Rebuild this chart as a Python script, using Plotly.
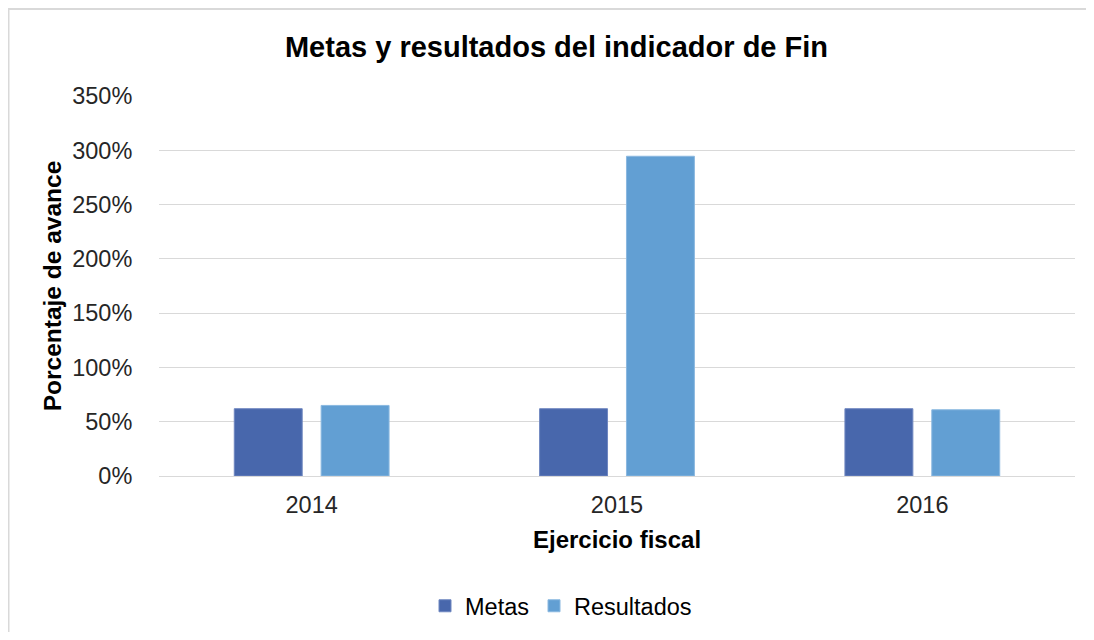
import plotly.graph_objects as go

years = ["2014", "2015", "2016"]
metas = [62, 62, 62]
resultados = [65, 294.5, 61]
y_ticks = [0, 50, 100, 150, 200, 250, 300, 350]
y_labels = ["0%", "50%", "100%", "150%", "200%", "250%", "300%", "350%"]

fig = go.Figure()
fig.add_trace(go.Bar(name="Metas", x=years, y=metas,
                     marker=dict(color="#4867ac", line=dict(color="#6f87c0", width=1))))
fig.add_trace(go.Bar(name="Resultados", x=years, y=resultados,
                     marker=dict(color="#629fd3", line=dict(color="#8ab8e0", width=1))))

# page has an 8px body margin; figure coordinates = page coordinates - 8
OFF = 8
W, H = 1094 - 2 * OFF, 640 - 2 * OFF
pl, pr, pt, pb = 159, 1075, 96, 476  # plot area in page pixels
ml, mr, mt, mb = pl - OFF, W - (pr - OFF), pt - OFF, H - (pb - OFF)
pw, ph = W - ml - mr, H - mt - mb

def px_x(p):
    return (p - OFF - ml) / pw

def px_y(p):
    return (H - mb - (p - OFF)) / ph

def cx(p):
    return (p - OFF) / W

def cy(p):
    return 1 - (p - OFF) / H

fig.update_layout(
    width=W, height=H, autosize=False,
    margin=dict(l=ml, r=mr, t=mt, b=mb, autoexpand=False),
    paper_bgcolor="white", plot_bgcolor="white",
    font=dict(family="Liberation Sans, Arial, sans-serif", color="#262626", size=23),
    title=dict(text="<b>Metas y resultados del indicador de Fin</b>",
               x=cx(556.5), xref="container", xanchor="center",
               y=cy(47), yref="container", yanchor="middle",
               font=dict(size=29, color="black")),
    barmode="group", bargap=0.431, bargroupgap=0.218,
    showlegend=True,
    legend=dict(orientation="h", x=cx(561), xanchor="center", xref="container",
                y=cy(606), yref="container", yanchor="middle",
                font=dict(size=23.5, color="black"),
                itemwidth=30, traceorder="normal"),
    shapes=[dict(type="rect", xref="paper", yref="paper",
                 x0=px_x(8.5), x1=px_x(1110), y0=px_y(660), y1=px_y(9),
                 line=dict(color="#d9d9d9", width=2), layer="below")],
)
fig.update_xaxes(
    automargin=False,
    title=dict(text="<b>Ejercicio fiscal</b>", font=dict(size=24, color="black"), standoff=13),
    showline=True, linecolor="#d9d9d9", linewidth=1,
    ticks="outside", ticklen=8, tickcolor="rgba(0,0,0,0)",
    tickfont=dict(size=23.5, color="#262626"),
)
fig.update_yaxes(
    automargin=False,
    title=dict(text="<b>Porcentaje de avance</b>", font=dict(size=24.5, color="black"), standoff=3),
    range=[0, 350], tickvals=y_ticks, ticktext=y_labels,
    showgrid=True, gridcolor="#d9d9d9", gridwidth=1, zeroline=False,
    ticks="outside", ticklen=21, tickcolor="rgba(0,0,0,0)",
    tickfont=dict(size=23.5, color="#262626"),
)
fig.write_html("out.html")
